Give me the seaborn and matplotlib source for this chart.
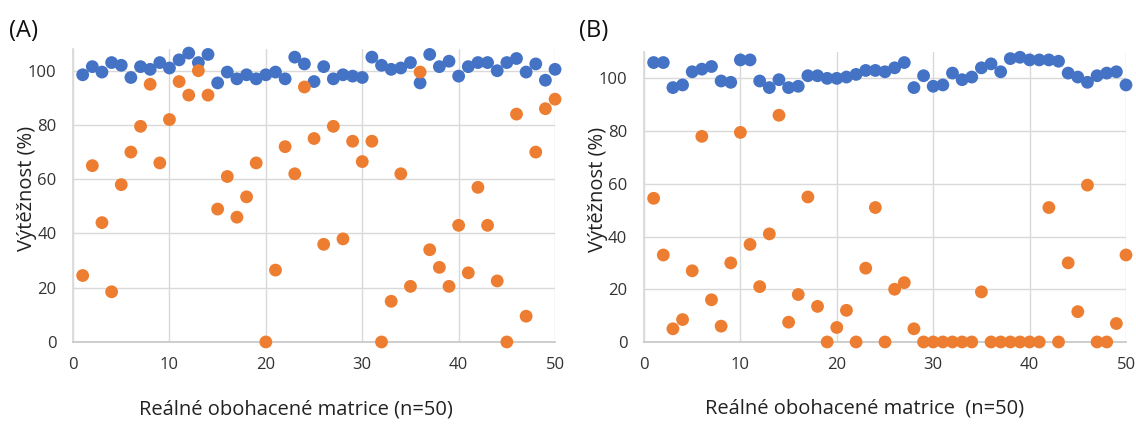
import numpy as np
import pandas as pd
import matplotlib
matplotlib.use("Agg")
import matplotlib.pyplot as plt
import seaborn as sns

sample = list(range(1, 51))

a_blue = [98.5, 101.5, 99.5, 103, 102, 97.5, 101.5, 100.5, 103, 101,
          104, 106.5, 103, 106, 95.5, 99.5, 97, 98.5, 97, 98.5,
          99.5, 97, 105, 102.5, 96, 101.5, 97, 98.5, 98, 97.5,
          105, 102, 100.5, 101, 103, 95.5, 106, 101.5, 103.5, 98,
          101.5, 103, 103, 100, 103, 104.5, 99.5, 102.5, 96.5, 100.5]
a_orange = [24.5, 65, 44, 18.5, 58, 70, 79.5, 95, 66, 82,
            96, 91, 100, 91, 49, 61, 46, 53.5, 66, 0,
            26.5, 72, 62, 94, 75, 36, 79.5, 38, 74, 66.5,
            74, 0, 15, 62, 20.5, 99.5, 34, 27.5, 20.5, 43,
            25.5, 57, 43, 22.5, 0, 84, 9.5, 70, 86, 89.5]

b_blue = [106, 106, 96.5, 97.5, 102.5, 103.5, 104.5, 99, 98.5, 107,
          107, 99, 96.5, 99.5, 96.5, 97, 101, 101, 100, 100,
          100.5, 101.5, 103, 103, 102.5, 104, 106, 96.5, 101, 97,
          97.5, 102, 99.5, 100.5, 104, 105.5, 102.5, 107.5, 108, 107,
          107, 107, 106.5, 102, 100.5, 98.5, 101, 102, 102.5, 97.5]
b_orange = [54.5, 33, 5, 8.5, 27, 78, 16, 6, 30, 79.5,
            37, 21, 41, 86, 7.5, 18, 55, 13.5, 0, 5.5,
            12, 0, 28, 51, 0, 20, 22.5, 5, 0, 0,
            0, 0, 0, 0, 19, 0, 0, 0, 0, 0,
            0, 51, 0, 30, 11.5, 59.5, 0, 0, 7, 33]

panel_labels = ["(A)", "(B)"]
x_labels = ["Reálné obohacené matrice (n=50)", "Reálné obohacené matrice  (n=50)"]
y_label = "Výtěžnost (%)"

sns.set_theme(style="white")
plt.rcParams['font.family'] = ['Open Sans', 'DejaVu Sans']

BLUE = "#4472C4"
ORANGE = "#ED7D31"
GRID = "#D9D9D9"

fig = plt.figure(figsize=(11.36, 4.28), dpi=100)
ax_a = fig.add_axes([0.0643, 0.201, 0.4243, 0.6845])
ax_b = fig.add_axes([0.5669, 0.201, 0.4243, 0.6775])

panels = [(ax_a, a_blue, a_orange, 108, 0.463), (ax_b, b_blue, b_orange, 110, 0.458)]
for i, (ax, blue, orange, ymax, xlab_x) in enumerate(panels):
    df = pd.DataFrame({"x": sample + sample,
                       "y": blue + orange,
                       "s": ["blue"] * 50 + ["orange"] * 50})
    sns.scatterplot(data=df, x="x", y="y", hue="s",
                    palette={"blue": BLUE, "orange": ORANGE},
                    s=85, linewidth=0, ax=ax, legend=False, clip_on=False, zorder=3)
    ax.set_xlim(0, 50)
    ax.set_ylim(0, ymax)
    ax.set_xticks(range(0, 51, 10))
    ax.set_yticks(range(0, 101, 20))
    ax.grid(True, color=GRID, linewidth=1)
    ax.set_axisbelow(True)
    for sp in ["top", "right"]:
        ax.spines[sp].set_visible(False)
    ax.spines["left"].set_color(GRID)
    ax.spines["bottom"].set_color("#C8C8C8")
    ax.tick_params(axis="both", length=0, labelsize=12, colors="#333333")
    ax.tick_params(axis="x", pad=11)
    ax.tick_params(axis="y", pad=12)
    ax.set_xlabel(x_labels[i], fontsize=14.5, color="#222222")
    ax.set_ylabel(y_label, fontsize=14.5, color="#222222")
    ax.xaxis.set_label_coords(xlab_x, -0.195)
    ax.yaxis.set_label_coords(-0.074, 0.525)

fig.text(0.008, 0.928, panel_labels[0], fontsize=17, color="#111111", va="center")
fig.text(0.510, 0.928, panel_labels[1], fontsize=17, color="#111111", va="center")

fig.savefig("out.png", dpi=100)
